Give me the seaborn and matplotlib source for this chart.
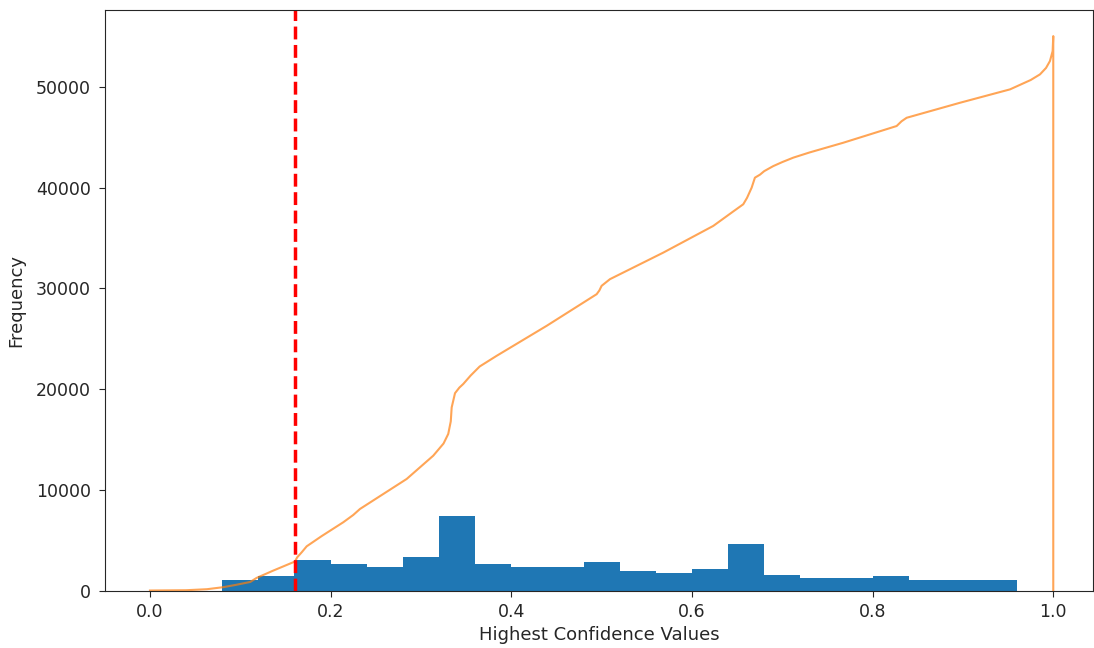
import numpy as np
import pandas as pd
import matplotlib
matplotlib.use("Agg")
import matplotlib.pyplot as plt
import seaborn as sns

# histogram bins (width 0.04) and counts
bin_edges = [0.08, 0.12, 0.16, 0.20, 0.24, 0.28, 0.32, 0.36, 0.40, 0.44, 0.48, 0.52,
             0.56, 0.60, 0.64, 0.68, 0.72, 0.76, 0.80, 0.84, 0.88, 0.92, 0.96]
bin_counts = [1060, 1420, 3000, 2650, 2310, 3370, 7410, 2650, 2310, 2310, 2810,
              1950, 1750, 2120, 4600, 1590, 1225, 1225, 1420, 1060, 1060, 1060]

# cumulative curve (orange)
cum_x = [0.0, 0.04, 0.063, 0.081, 0.095, 0.111, 0.118, 0.1365, 0.1605, 0.163, 0.168,
         0.1735, 0.19, 0.214, 0.225, 0.2325, 0.2842, 0.3136, 0.325, 0.3302, 0.333,
         0.334, 0.3377, 0.3425, 0.3468, 0.355, 0.365, 0.3838, 0.4392, 0.4945, 0.4975,
         0.5, 0.5092, 0.5683, 0.6236, 0.645, 0.6568, 0.661, 0.6661, 0.6697, 0.6753,
         0.68, 0.69, 0.70, 0.7122, 0.73, 0.7675, 0.8266, 0.832, 0.8377, 0.8967,
         0.9521, 0.975, 0.9853, 0.992, 0.9963, 0.9993, 1.0, 1.0]
cum_y = [0, 30, 130, 330, 560, 850, 1250, 1980, 2880, 3300, 3800,
         4390, 5400, 6780, 7500, 8100, 11080, 13390, 14600, 15550, 16800,
         18180, 19600, 20150, 20510, 21350, 22250, 23310, 26290, 29430, 29800,
         30260, 30920, 33560, 36210, 37600, 38360, 39000, 40010, 41000, 41300,
         41650, 42150, 42550, 42990, 43500, 44470, 46130, 46600, 46950, 48440,
         49770, 50700, 51260, 51900, 52580, 53570, 55060, 0]

threshold = 0.161

centers = [(a + b) / 2 for a, b in zip(bin_edges[:-1], bin_edges[1:])]
hist_df = pd.DataFrame({"conf": centers, "count": bin_counts})
cum_df = pd.DataFrame({"conf": cum_x, "freq": cum_y})

plt.rcParams.update({
    "axes.labelsize": 13,
    "xtick.labelsize": 12.5,
    "ytick.labelsize": 12.5,
    "text.color": "#262626",
    "axes.labelcolor": "#262626",
    "xtick.color": "#262626",
    "ytick.color": "#262626",
    "axes.edgecolor": "#262626",
    "xtick.major.size": 4.5,
    "ytick.major.size": 4.5,
    "xtick.major.pad": 4.3,
    "ytick.major.pad": 5.5,
})

fig = plt.figure(figsize=(10.94, 6.48), dpi=100)
ax = fig.add_axes([0.0958, 0.0887, 0.9033, 0.8966])

sns.histplot(data=hist_df, x="conf", weights="count", bins=bin_edges,
             color="#1f77b4", alpha=1, edgecolor="none", linewidth=0, ax=ax)
sns.lineplot(data=cum_df, x="conf", y="freq", sort=False, estimator=None,
             color="#ff7f0e", alpha=0.7, linewidth=1.5, ax=ax)
ax.axvline(threshold, color="red", linestyle="--", linewidth=2.5)

ax.set_xlim(-0.05, 1.044)
ax.set_ylim(0, 57700)
ax.set_xticks([0.0, 0.2, 0.4, 0.6, 0.8, 1.0])
ax.set_yticks([0, 10000, 20000, 30000, 40000, 50000])
ax.set_xlabel("Highest Confidence Values", labelpad=3.5)
ax.set_ylabel("Frequency", labelpad=8)

fig.savefig("out.png", dpi=100)
